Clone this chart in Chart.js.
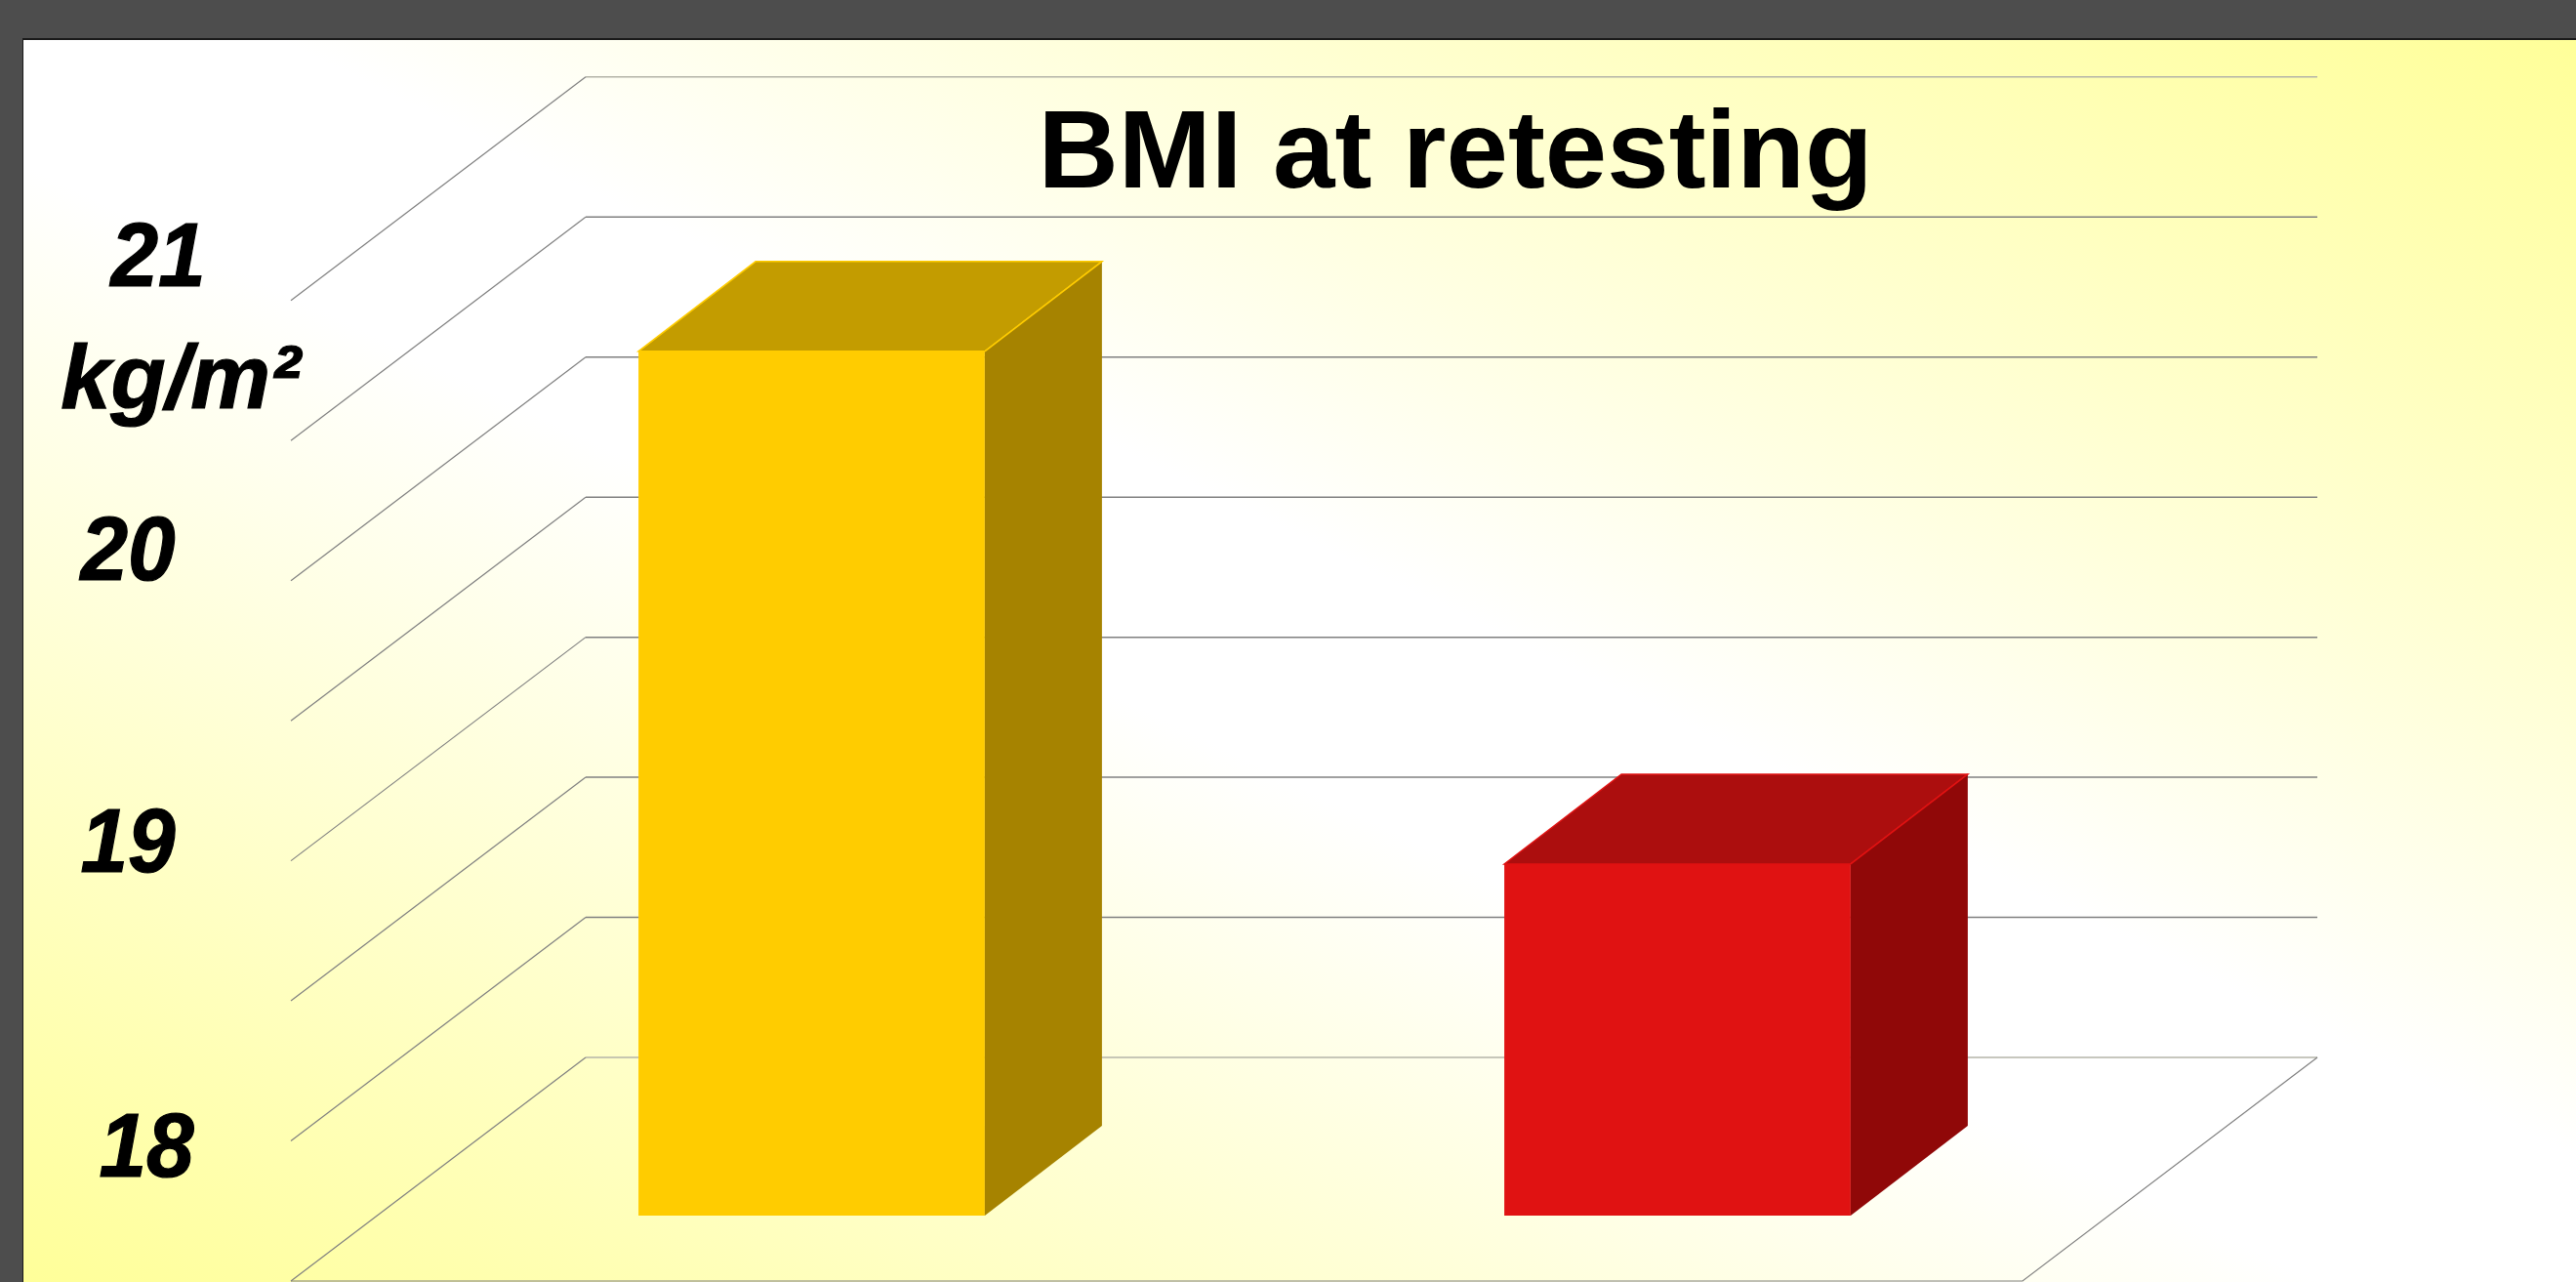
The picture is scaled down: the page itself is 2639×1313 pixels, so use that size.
<!DOCTYPE html>
<html><head><meta charset="utf-8">
<style>html,body{margin:0;padding:0;background:#4d4d4d}canvas{display:block}</style>
<script src="https://cdn.jsdelivr.net/npm/chart.js@4"></script>
</head><body><canvas id="c" width="2639" height="1313"></canvas>
<script>
const categories = ['Group A', 'Group B'];
const bmiValues = [20.585, 18.755];
const axisLabels = ['18', '19', '20', '21', 'kg/m²'];
const axisLabelValues = [18, 19, 20, 21, 20.5];
const chartTitle = 'BMI at retesting';
const faceColors = ['#ffcc00', '#e01212'];
const topColors = ['#c39c00', '#ac0e0e'];
const sideColors = ['#a68300', '#900808'];

const FONT = '"Liberation Sans", Arial, sans-serif';
const wall = {dx: 302, dy: -229};
const barFront = {dx: 90, dy: -67};
const barDepth = {dx: 120, dy: -92};
const labelPlace = {'18': [150, 36], '19': [131, 11], '20': [131, -1], '21': [162, -15], 'kg/m²': [185, -33]};

function poly(ctx, pts, fill, edge) {
  ctx.beginPath();
  pts.forEach((p, i) => i ? ctx.lineTo(p[0], p[1]) : ctx.moveTo(p[0], p[1]));
  ctx.closePath();
  ctx.fillStyle = fill; ctx.fill();
  if (edge) { ctx.strokeStyle = edge; ctx.lineWidth = 1.5; ctx.stroke(); }
}

const scene = {
  id: 'scene',
  afterLayout(chart) {
    const t = chart.titleBlock;
    const half = (t.right - t.left) / 2;
    t.left = 1491 - half; t.right = 1491 + half;
  },
  beforeDraw(chart) {
    const ctx = chart.ctx, W = chart.width, H = chart.height;
    ctx.save();
    ctx.fillStyle = '#4d4d4d'; ctx.fillRect(0, 0, W, H);
    const x0 = 24, y0 = 41, w = W - x0, h = H - y0;
    const cx = x0 + w / 2, cy = y0 + h / 2;
    const len = w * h / Math.sqrt(w * w + h * h);
    const ux = h / Math.sqrt(w * w + h * h), uy = -w / Math.sqrt(w * w + h * h);
    const g = ctx.createLinearGradient(cx - ux * len, cy - uy * len, cx + ux * len, cy + uy * len);
    g.addColorStop(0, '#ffff99'); g.addColorStop(0.45, '#ffffff');
    g.addColorStop(0.55, '#ffffff'); g.addColorStop(1, '#ffff99');
    ctx.fillStyle = g; ctx.fillRect(x0, y0, w, h);
    ctx.fillStyle = '#1a1a1a'; ctx.fillRect(x0 - 1, y0 - 2, w + 1, 2);
    ctx.fillRect(x0 - 1, y0 - 2, 1, h + 2);
    ctx.restore();
  },
  beforeDatasetsDraw(chart) {
    const ctx = chart.ctx, a = chart.chartArea, y = chart.scales.y;
    ctx.save();
    y.ticks.forEach(t => {
      const py = y.getPixelForValue(t.value);
      const edge = t.value === y.min || t.value === y.max;
      ctx.strokeStyle = edge ? '#b4b4a8' : '#808080';
      ctx.lineWidth = 1.5;
      ctx.beginPath();
      ctx.moveTo(a.left + wall.dx, py + wall.dy);
      ctx.lineTo(a.right + wall.dx, py + wall.dy);
      ctx.stroke();
      ctx.strokeStyle = '#808080'; ctx.lineWidth = 1.2;
      ctx.beginPath();
      ctx.moveTo(a.left, py);
      ctx.lineTo(a.left + wall.dx, py + wall.dy);
      ctx.stroke();
    });
    ctx.strokeStyle = '#808080'; ctx.lineWidth = 1.2;
    ctx.beginPath();
    ctx.moveTo(a.left, a.bottom); ctx.lineTo(a.right, a.bottom);
    ctx.lineTo(a.right + wall.dx, a.bottom + wall.dy);
    ctx.stroke();
    ctx.restore();
    ctx.save();
    ctx.translate(barFront.dx, barFront.dy);
  },
  afterDatasetsDraw(chart) {
    const ctx = chart.ctx, y = chart.scales.y;
    ctx.restore();
    chart.getDatasetMeta(0).data.forEach((el, i) => {
      const L = el.x - el.width / 2 + barFront.dx, R = el.x + el.width / 2 + barFront.dx;
      const T = el.y + barFront.dy, B = el.base + barFront.dy;
      const d = barDepth;
      poly(ctx, [[L, T], [R, T], [R + d.dx, T + d.dy], [L + d.dx, T + d.dy]], topColors[i], faceColors[i]);
      poly(ctx, [[R, T], [R + d.dx, T + d.dy], [R + d.dx, B + d.dy], [R, B]], sideColors[i], null);
      ctx.strokeStyle = faceColors[i]; ctx.lineWidth = 1.5;
      ctx.beginPath(); ctx.moveTo(R, T); ctx.lineTo(R + d.dx, T + d.dy); ctx.stroke();
    });
    ctx.save();
    ctx.fillStyle = '#000'; ctx.strokeStyle = '#000'; ctx.lineWidth = 1.2;
    ctx.font = 'italic bold 92px ' + FONT;
    ctx.textAlign = 'center'; ctx.textBaseline = 'alphabetic';
    axisLabels.forEach((s, i) => {
      const p = labelPlace[s], px = y.getPixelForValue(axisLabelValues[i]) + p[1];
      const squeeze = s.length === 2 ? 0.95 : 1;
      ctx.save();
      ctx.translate(p[0], px);
      ctx.scale(squeeze, 1);
      ctx.fillText(s, 0, 0);
      ctx.strokeText(s, 0, 0);
      ctx.restore();
    });
    ctx.restore();
  }
};

new Chart(document.getElementById('c'), {
  type: 'bar',
  plugins: [scene],
  data: {
    labels: categories,
    datasets: [{
      data: bmiValues,
      base: 17.5,
      backgroundColor: faceColors,
      borderWidth: 0,
      barPercentage: 1,
      categoryPercentage: 0.4,
      clip: false
    }]
  },
  options: {
    responsive: false,
    animation: false,
    devicePixelRatio: 1,
    layout: {padding: {left: 298, right: 567, top: 92, bottom: 1}},
    scales: {
      x: {display: false},
      y: {display: false, min: 17.5, max: 21, ticks: {stepSize: 0.5}}
    },
    plugins: {
      legend: {display: false},
      tooltip: {enabled: false},
      title: {
        display: true,
        text: chartTitle,
        color: '#000',
        font: {family: FONT, size: 114, weight: 'bold', lineHeight: 1.2},
        padding: {top: 0, bottom: 79}
      }
    }
  }
});
</script></body></html>
